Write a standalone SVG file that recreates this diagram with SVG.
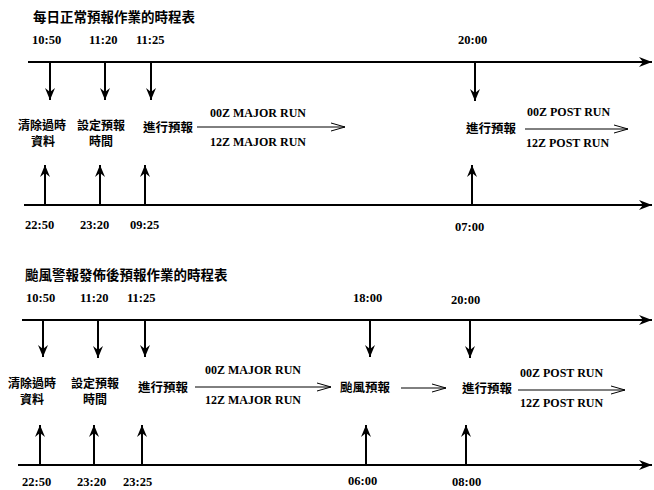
<svg xmlns="http://www.w3.org/2000/svg" width="654" height="490" viewBox="0 0 654 490">
<style>
.t{font-family:"Liberation Serif","Noto Sans CJK TC",serif;font-weight:bold;font-size:12.5px;fill:#000}
.c{font-family:"Noto Sans CJK TC","Noto Sans CJK SC",sans-serif;font-weight:bold;font-size:12.5px;fill:#000}
.c2{font-family:"Noto Sans CJK TC","Noto Sans CJK SC",sans-serif;font-weight:bold;font-size:12px;fill:#000}
.ti{font-family:"Noto Sans CJK TC","Noto Sans CJK SC",sans-serif;font-weight:bold;font-size:13.5px;fill:#000}
.r{font-family:"Liberation Serif",serif;font-weight:bold;font-size:12px;fill:#000}
.ax{stroke:#000;stroke-width:2;fill:none}
.v{stroke:#000;stroke-width:2;fill:none}
.h{stroke:#000;stroke-width:1;fill:none}
</style>
<defs>
<marker id="big" markerWidth="14" markerHeight="10" refX="13" refY="5" orient="auto" markerUnits="userSpaceOnUse">
<path d="M0,0 L13,5 L0,10 L4,5 Z" fill="#000"/>
</marker>
<marker id="arr" markerWidth="14" markerHeight="10" refX="12" refY="5" orient="auto" markerUnits="userSpaceOnUse">
<path d="M0,0 L12,5 L0,10 L4,5 Z" fill="#000"/>
</marker>
<marker id="open" markerWidth="16" markerHeight="10" refX="15" refY="5" orient="auto" markerUnits="userSpaceOnUse">
<path d="M1,1 L15,5 L1,9" fill="none" stroke="#000" stroke-width="1"/>
</marker>
</defs>

<g id="section1">
<text class="ti" x="33" y="22">每日正常預報作業的時程表</text>
</g>

<g id="connectors">
<line class="ax" x1="28" y1="62" x2="652" y2="62" marker-end="url(#big)"/>
<line class="ax" x1="24" y1="205" x2="652" y2="205" marker-end="url(#big)"/>
<line class="v" x1="50" y1="62" x2="50" y2="100" marker-end="url(#arr)"/>
<line class="v" x1="105" y1="62" x2="105" y2="100" marker-end="url(#arr)"/>
<line class="v" x1="151" y1="62" x2="151" y2="100" marker-end="url(#arr)"/>
<line class="v" x1="475" y1="62" x2="475" y2="101" marker-end="url(#arr)"/>
<line class="v" x1="45" y1="205" x2="45" y2="165" marker-end="url(#arr)"/>
<line class="v" x1="100" y1="205" x2="100" y2="165" marker-end="url(#arr)"/>
<line class="v" x1="145" y1="205" x2="145" y2="165" marker-end="url(#arr)"/>
<line class="v" x1="472" y1="205" x2="472" y2="165" marker-end="url(#arr)"/>
<line class="h" x1="197" y1="127" x2="345" y2="127" marker-end="url(#open)"/>
<line class="h" x1="525" y1="129" x2="628" y2="129" marker-end="url(#open)"/>

<line class="ax" x1="22" y1="320" x2="652" y2="320" marker-end="url(#big)"/>
<line class="ax" x1="18" y1="465" x2="652" y2="465" marker-end="url(#big)"/>
<line class="v" x1="43" y1="320" x2="43" y2="357" marker-end="url(#arr)"/>
<line class="v" x1="98" y1="320" x2="98" y2="358" marker-end="url(#arr)"/>
<line class="v" x1="145" y1="320" x2="145" y2="357" marker-end="url(#arr)"/>
<line class="v" x1="370" y1="320" x2="370" y2="357" marker-end="url(#arr)"/>
<line class="v" x1="470" y1="320" x2="470" y2="358" marker-end="url(#arr)"/>
<line class="v" x1="40" y1="465" x2="40" y2="425" marker-end="url(#arr)"/>
<line class="v" x1="94" y1="465" x2="94" y2="425" marker-end="url(#arr)"/>
<line class="v" x1="142" y1="465" x2="142" y2="425" marker-end="url(#arr)"/>
<line class="v" x1="366" y1="465" x2="366" y2="425" marker-end="url(#arr)"/>
<line class="v" x1="466" y1="465" x2="466" y2="425" marker-end="url(#arr)"/>
<line class="h" x1="195" y1="387" x2="331" y2="387" marker-end="url(#open)"/>
<line class="h" x1="401" y1="388" x2="446" y2="388" marker-end="url(#open)"/>
<line class="h" x1="518" y1="390" x2="625" y2="390" marker-end="url(#open)"/>
</g>

<g id="times1">
<text class="t" x="32" y="44">10:50</text>
<text class="t" x="89" y="44">11:20</text>
<text class="t" x="136" y="44">11:25</text>
<text class="t" x="458" y="44">20:00</text>
<text class="t" x="25" y="229">22:50</text>
<text class="t" x="80" y="229">23:20</text>
<text class="t" x="130" y="229">09:25</text>
<text class="t" x="455" y="231">07:00</text>
</g>

<g id="n1-clear"><text class="c2" x="18" y="130">清除過時</text><text class="c2" x="31" y="146">資料</text></g>
<g id="n1-set"><text class="c2" x="77" y="130">設定預報</text><text class="c2" x="89" y="146">時間</text></g>
<g id="n1-run"><text class="c" x="143" y="132">進行預報</text></g>
<g id="n1-major"><text class="r" x="210" y="117">00Z MAJOR RUN</text><text class="r" x="210" y="146">12Z MAJOR RUN</text></g>
<g id="n1-run2"><text class="c" x="466" y="133">進行預報</text></g>
<g id="n1-post"><text class="r" x="527" y="116">00Z POST RUN</text><text class="r" x="526" y="147">12Z POST RUN</text></g>

<g id="section2">
<text class="ti" x="25" y="280">颱風警報發佈後預報作業的時程表</text>
</g>

<g id="times2">
<text class="t" x="26" y="302">10:50</text>
<text class="t" x="80" y="302">11:20</text>
<text class="t" x="127" y="302">11:25</text>
<text class="t" x="353" y="302">18:00</text>
<text class="t" x="451" y="304">20:00</text>
<text class="t" x="22" y="486">22:50</text>
<text class="t" x="77" y="486">23:20</text>
<text class="t" x="123" y="486">23:25</text>
<text class="t" x="348" y="485">06:00</text>
<text class="t" x="452" y="486">08:00</text>
</g>

<g id="n2-clear"><text class="c2" x="8" y="388">清除過時</text><text class="c2" x="20" y="404">資料</text></g>
<g id="n2-set"><text class="c2" x="71" y="388">設定預報</text><text class="c2" x="83" y="404">時間</text></g>
<g id="n2-run"><text class="c" x="138" y="392">進行預報</text></g>
<g id="n2-major"><text class="r" x="205" y="374">00Z MAJOR RUN</text><text class="r" x="205" y="404">12Z MAJOR RUN</text></g>
<g id="n2-typhoon"><text class="c" x="340" y="392">颱風預報</text></g>
<g id="n2-run2"><text class="c" x="462" y="393">進行預報</text></g>
<g id="n2-post"><text class="r" x="520" y="377">00Z POST RUN</text><text class="r" x="520" y="407">12Z POST RUN</text></g>
</svg>
